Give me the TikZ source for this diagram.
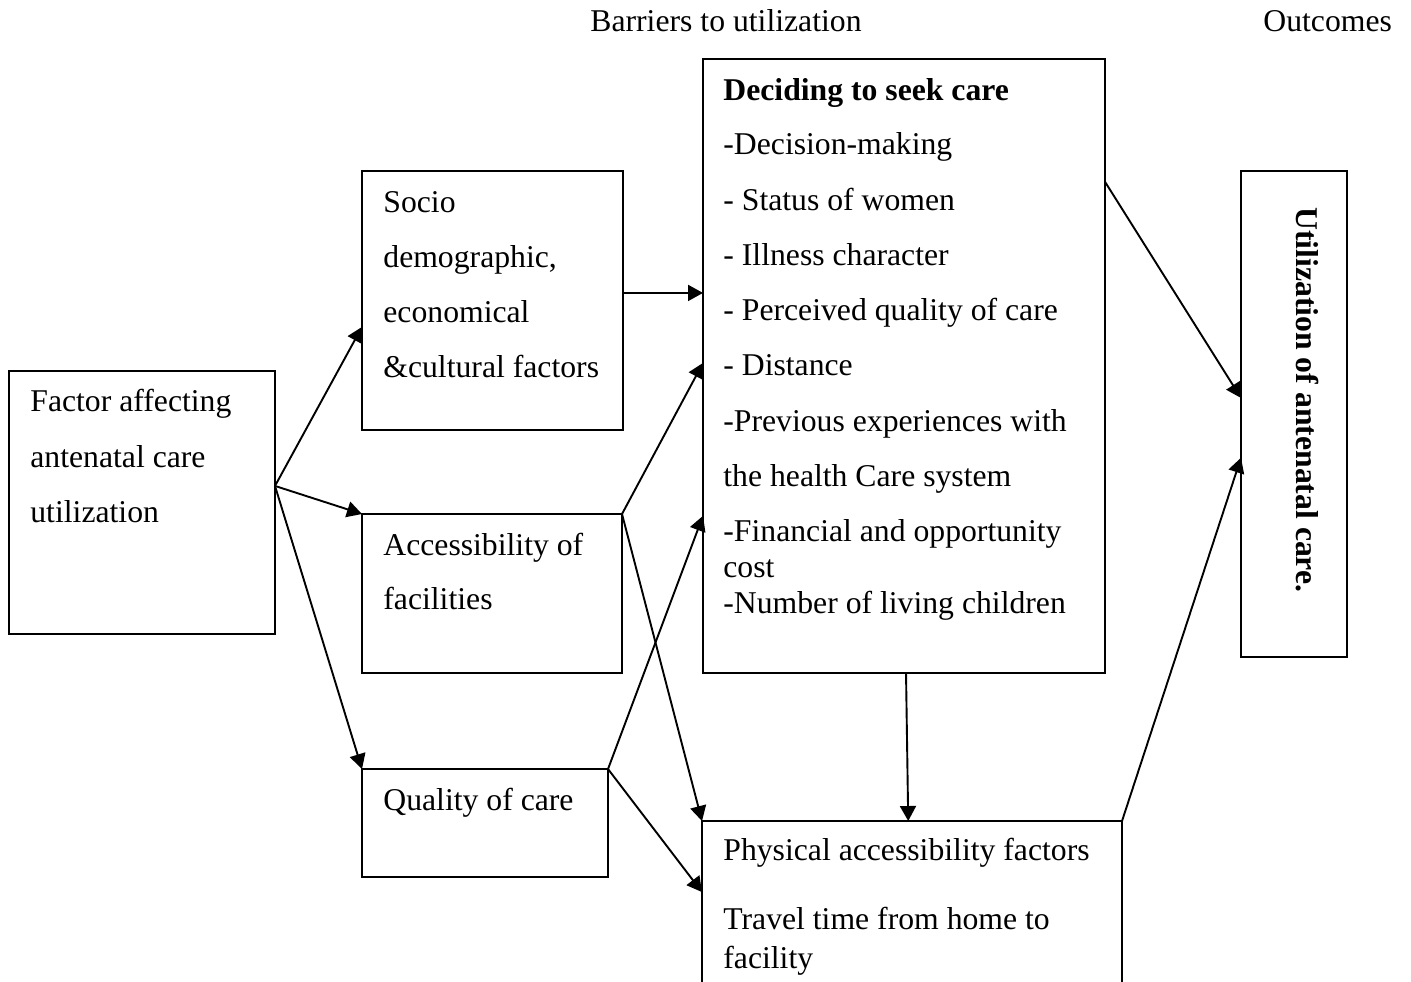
\documentclass[tikz,border=0pt]{standalone}
\usepackage{fontspec}
\setmainfont{Liberation Serif}
\usetikzlibrary{arrows.meta,calc}
\begin{document}
\begin{tikzpicture}[x=0.5pt,y=-0.5pt,
  box/.style={draw,line width=1.05pt,inner sep=0pt,outer sep=0pt,rectangle},
  txt/.style={anchor=base west,inner sep=0pt,font=\fontsize{15.85}{19}\selectfont},
  conn/.style={line width=0.95pt,-{Triangle[length=7.5pt,width=8pt]}}]
\clip (0,0) rectangle (1411,981);
\fill[white] (0,0) rectangle (1411,981);
% boxes
\node[box,minimum width=133pt,minimum height=131.5pt] (factor) at (142,502.5) {};
\node[box,minimum width=130.5pt,minimum height=129.5pt] (socio) at (492.5,300.5) {};
\node[box,minimum width=130pt,minimum height=79.5pt] (access) at (492,593.5) {};
\node[box,minimum width=123pt,minimum height=54pt] (quality) at (485,823) {};
\node[box,minimum width=201pt,minimum height=307pt] (decide) at (904,366) {};
\node[box,minimum width=210pt,minimum height=94.5pt] (phys) at (912,915.5) {};
\node[box,minimum width=53pt,minimum height=243pt] (util) at (1294,414) {};
% headers
\node[txt] (hbar) at (590,31) {Barriers to utilization};
\node[txt] (hout) at (1263,31) {Outcomes};
% factor text
\node[txt] (f1) at (30,411.5) {Factor affecting};
\node[txt] (f2) at (30,467) {antenatal care};
\node[txt] (f3) at (30,522) {utilization};
% socio text
\node[txt] (s1) at (383,212) {Socio};
\node[txt] (s2) at (383,267) {demographic,};
\node[txt] (s3) at (383,322) {economical};
\node[txt] (s4) at (383,377) {\&cultural factors};
% access text
\node[txt] (a1) at (383,555) {Accessibility of};
\node[txt] (a2) at (383,609) {facilities};
% quality text
\node[txt] (q1) at (383,810) {Quality of care};
% deciding text
\node[txt] (d0) at (723,100) {\bfseries Deciding to seek care};
\node[txt] (d1) at (723,154) {-Decision-making};
\node[txt] (d2) at (723,210) {- Status of women};
\node[txt] (d3) at (723,265) {- Illness character};
\node[txt] (d4) at (723,320) {- Perceived quality of care};
\node[txt] (d5) at (723,375) {- Distance};
\node[txt] (d6) at (723,431) {-Previous experiences with};
\node[txt] (d7) at (723,486) {the health Care system};
\node[txt] (d8) at (723,541) {-Financial and opportunity};
\node[txt] (d9) at (723,577) {cost};
\node[txt] (d10) at (723,613) {-Number of living children};
% physical text
\node[txt] (p1) at (723,860) {Physical accessibility factors};
\node[txt] (p2) at (723,929) {Travel time from home to};
\node[txt] (p3) at (723,968) {facility};
% utilization text
\node[txt,rotate=-90] (u1) at (1296,207) {\bfseries Utilization of antenatal care.};
% connectors
\draw[conn] ($(factor.north east)!0.437!(factor.south east)$) -- ($(socio.north west)!0.602!(socio.south west)$);
\draw[conn] ($(factor.north east)!0.437!(factor.south east)$) -- (access.north west);
\draw[conn] ($(factor.north east)!0.437!(factor.south east)$) -- (quality.north west);
\draw[conn] ($(socio.north east)!0.471!(socio.south east)$) -- ($(decide.north west)!0.381!(decide.south west)$);
\draw[conn] (access.north east) -- ($(decide.north west)!0.495!(decide.south west)$);
\draw[conn] (access.north east) -- (phys.north west);
\draw[conn] (quality.north east) -- ($(decide.north west)!0.744!(decide.south west)$);
\draw[conn] (quality.north east) -- ($(phys.north west)!0.376!(phys.south west)$);
\draw[conn] ($(decide.south west)!0.505!(decide.south east)$) -- ($(phys.north west)!0.491!(phys.north east)$);
\draw[conn] ($(decide.north east)!0.2!(decide.south east)$) -- ($(util.north west)!0.467!(util.south west)$);
\draw[conn] (phys.north east) -- ($(util.north west)!0.59!(util.south west)$);
\end{tikzpicture}
\end{document}
